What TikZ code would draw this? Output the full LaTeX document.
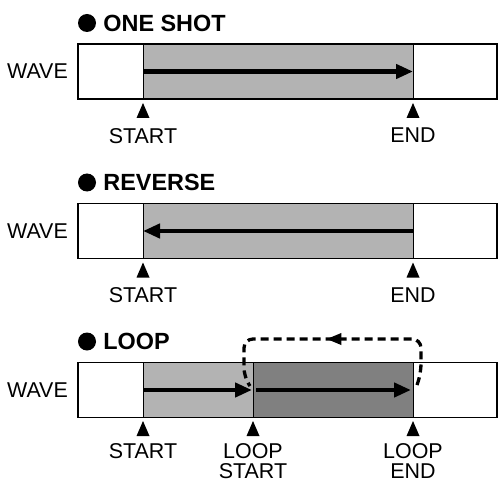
\documentclass[tikz,border=0pt]{standalone}
\usepackage{fontspec}
\setmainfont{Liberation Sans}
\usetikzlibrary{arrows.meta,positioning,decorations.markings}
\definecolor{wavegray}{HTML}{B3B3B3}
\definecolor{loopgray}{HTML}{808080}
\tikzset{
  wavebox/.style={draw=black,line width=1.3bp,minimum width=419bp,minimum height=55bp,inner sep=0pt},
  divider/.style={draw=black,line width=1bp},
  playarr/.style={-{Triangle[length=17bp,width=14bp]},line width=4.5bp},
  looparr/.style={line width=3.3bp,dash pattern=on 8bp off 5bp,rounded corners=9bp,
    postaction=decorate,decoration={markings,mark=at position 0.52 with {\arrow{Triangle[length=15bp,width=11bp]}}}},
  bullet/.style={circle,fill=black,minimum size=18bp,inner sep=0pt},
  headtext/.style={font=\fontsize{23.5}{24}\selectfont\bfseries,inner sep=0pt},
  marktext/.style={font=\fontsize{21.5}{19.5}\selectfont,inner sep=0pt,align=center},
}

\begin{document}
\begin{tikzpicture}[x=1bp,y=-1bp]
  \useasboundingbox (0,0) rectangle (498,484);

  % one shot
  \node[bullet] (dot1) at (87,23) {};
  \node[headtext,right=7bp of dot1] (head1) {ONE SHOT};
  \node[marktext,anchor=east] (wave1) at (68,71.5) {WAVE};
  \fill[wavegray] (143,44) rectangle (413,99);
  \node[wavebox] (box1) at (287.5,71.5) {};
  \draw[divider] (143,44) -- (143,99) (413,44) -- (413,99);
  \coordinate (s1) at (143,71.5);
  \coordinate (e1) at (413,71.5);
  \draw[playarr] (s1) -- (e1);
  \foreach \mx in {143,413} \fill (\mx,103) -- ++(-6.5,15) -- ++(13,0) -- cycle;
  \node[marktext,anchor=north] (start1) at (143,128) {START};
  \node[marktext,anchor=north] (end1) at (413,128) {END};

  % reverse
  \node[bullet] (dot2) at (87,182.5) {};
  \node[headtext,right=7bp of dot2] (head2) {REVERSE};
  \node[marktext,anchor=east] (wave2) at (68,231) {WAVE};
  \fill[wavegray] (143,203.5) rectangle (413,258.5);
  \node[wavebox] (box2) at (287.5,231) {};
  \draw[divider] (143,203.5) -- (143,258.5) (413,203.5) -- (413,258.5);
  \coordinate (s2) at (143,231);
  \coordinate (e2) at (413,231);
  \draw[playarr] (e2) -- (s2);
  \foreach \mx in {143,413} \fill (\mx,262.5) -- ++(-6.5,15) -- ++(13,0) -- cycle;
  \node[marktext,anchor=north] (start2) at (143,287.5) {START};
  \node[marktext,anchor=north] (end2) at (413,287.5) {END};

  % loop
  \node[bullet] (dot3) at (87,341.5) {};
  \node[headtext,right=7bp of dot3] (head3) {LOOP};
  \node[marktext,anchor=east] (wave3) at (68,390) {WAVE};
  \fill[wavegray] (143,362.5) rectangle (253,417.5);
  \fill[loopgray] (253,362.5) rectangle (413,417.5);
  \node[wavebox] (box3) at (287.5,390) {};
  \draw[divider] (143,362.5) -- (143,417.5) (253,362.5) -- (253,417.5) (413,362.5) -- (413,417.5);
  \coordinate (s3) at (143,390);
  \coordinate (ls3) at (252,390);
  \coordinate (ls3b) at (256,390);
  \coordinate (le3) at (411,390);
  \draw[playarr] (s3) -- (ls3);
  \draw[playarr] (ls3b) -- (le3);
  \coordinate (lpend) at (417,385);
  \coordinate (lpstart) at (250,386);
  \draw[looparr] (lpend) -- ++(4,-12) -- ++(0,-34) -- ++(-177,0) -- ++(0,38) -- (lpstart);
  \foreach \mx in {143,253,413} \fill (\mx,421) -- ++(-6.5,15) -- ++(13,0) -- cycle;
  \node[marktext,anchor=north] (start3) at (143,443.5) {START};
  \node[marktext,anchor=north] (lstart3) at (253,443.5) {LOOP\\START};
  \node[marktext,anchor=north] (lend3) at (413,443.5) {LOOP\\END};
\end{tikzpicture}
\end{document}
